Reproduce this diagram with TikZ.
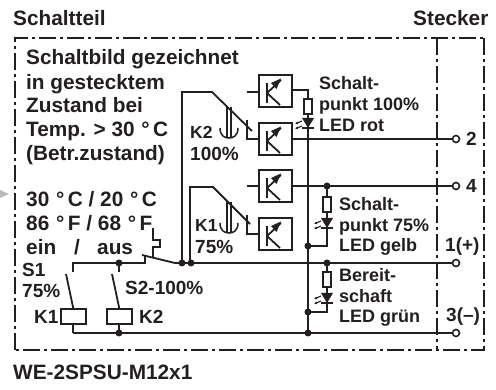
\documentclass[tikz,border=0pt]{standalone}
\usepackage{fontspec}
\setmainfont{Liberation Sans}
\usetikzlibrary{arrows.meta}
\tikzset{
 x=1pt,y=-1pt,
 wire/.style={line width=1.8pt,color=ink},
 thin wire/.style={line width=1.5pt,color=ink},
 frameline/.style={line width=1.9pt,color=ink,dash pattern=on 17pt off 4pt on 3pt off 4pt},
 txt/.style={inner sep=0pt,anchor=base west,font=\bfseries\fontsize{20.8}{24}\selectfont,text=ink},
 lab/.style={inner sep=0pt,anchor=base west,font=\bfseries\fontsize{18}{21}\selectfont,text=ink},
 clab/.style={inner sep=0pt,anchor=base west,font=\bfseries\fontsize{19}{22}\selectfont,text=ink},
 klab/.style={inner sep=0pt,anchor=base west,font=\bfseries\fontsize{17.5}{22}\selectfont,text=ink},
 dot/.style={circle,fill=ink,inner sep=0pt,minimum size=7pt},
 term/.style={circle,draw=ink,line width=1.6pt,fill=white,inner sep=0pt,minimum size=7pt},
 box/.style={draw=ink,line width=2pt,fill=white,inner sep=0pt,anchor=north west},
}
\definecolor{ink}{HTML}{231F20}
\newcommand{\amp}[2]{% box with comparator symbol, top-left corner #1,#2
 \begin{scope}[shift={(#1,#2)}]
 \draw[box] (0,0) rectangle (33,32);
 \draw[wire] (8,8)--(8,28);
 \draw[wire] (8,18)--(21,30);
 \draw[wire] (8,18)--(22,5);
 \fill[ink] (22,3.5)--(12,8)--(17.5,14)--cycle;
 \end{scope}}
\newcommand{\led}[2]{% led at centre x #1, triangle top y #2
 \begin{scope}[shift={(#1,#2)}]
 \fill[ink] (-6,0)--(6,0)--(0,10)--cycle;
 \draw[wire] (-6,10)--(6,10);
 \draw[line width=1.1pt,ink,-{Latex[length=3pt,width=3pt]}] (-6,3)--(-13,6);
 \draw[line width=1.1pt,ink,-{Latex[length=3pt,width=3pt]}] (-6,8)--(-13,11);
 \end{scope}}
\newcommand{\res}[3]{\draw[line width=1.6pt,ink,fill=white] (#1-4,#2) rectangle (#1+4,#3);}
\newcommand{\anch}[2]{% anchor, x centre #1, top y #2
 \begin{scope}[shift={(#1,#2)}]
 \draw[thin wire] (-2,0)--(-2,31) (2,0)--(2,31);
 \draw[thin wire] (-9,21) .. controls (-9,29) and (-4,31) .. (0,31) .. controls (4,31) and (9,29) .. (9,21);
 \end{scope}}
\begin{document}
\begin{tikzpicture}
\useasboundingbox (0,0) rectangle (496,390);
\fill[gray!55] (0,190)--(9,194)--(0,198)--cycle;
% frame
\draw[frameline] (15,350)--(15,38)--(484,38);
\draw[frameline] (484,38)--(484,350)--(15,350);
\draw[frameline] (437,38)--(437,350);
% headings
\node[txt] (t1) at (13,26) {Schaltteil};
\node[txt] (t2) at (413,26) {Stecker};
\node[txt] (t3) at (13,380) {WE-2SPSU-M12x1};
\node[txt] (a1) at (26,65) {Schaltbild gezeichnet};
\node[txt] (a2) at (26,90) {in gestecktem};
\node[txt] (a3) at (26,113) {Zustand bei};
\node[txt] (a4) at (26,137) {Temp. > 30 \kern1pt°\,C};
\node[txt] (a5) at (26,161) {(Betr.zustand)};
\node[txt] (a6) at (26,207) {30 \kern1pt°\,C / 20 \kern1pt°\,C};
\node[txt] (a7) at (26,231) {86 \kern1pt°\,F / 68 \kern1pt°\,F};
\node[txt] (a8) at (26,255) {ein};
\node[txt] (a9) at (74,255) {/};
\node[txt] (a10) at (97,255) {aus};
% wires
\draw[wire] (182,263)--(182,92)--(212,92)--(252,131);
\draw[wire] (190,263)--(190,187)--(213,187)--(250,224);
\draw[wire] (247,92)--(259,92);
\draw[wire] (247,120)--(247,139)--(259,139);
\draw[wire] (247,186)--(259,186);
\draw[wire] (247,215)--(247,234)--(259,234);
\draw[wire] (292,90)--(308,90)--(308,333);
\draw[wire] (292,139)--(452,139);
\draw[wire] (292,186)--(452,186);
\draw[wire] (175,263)--(452,263);
\draw[wire] (73,333)--(452,333);
\draw[wire] (327,186)--(327,246)--(308,246);
\draw[wire] (327,263)--(327,312)--(308,312);
% switch
\draw[wire] (73,272)--(73,263)--(145,263)--(145,256);
\draw[wire] (142,255)--(175,263);
\draw[wire] (153,228)--(153,240)--(160,240)--(160,247)--(153,247)--(153,258);
\draw[wire] (119,263)--(119,272);
\draw[wire] (66,274)--(73,307)--(73,309);
\draw[wire] (112,274)--(119,307)--(119,309);
\draw[wire] (73,324)--(73,333);
\draw[wire] (119,324)--(119,333);
\draw[box] (61,309) rectangle (86,324);
\draw[box] (107,309) rectangle (132,324);
\amp{259}{75}\amp{259}{123}\amp{259}{170}\amp{259}{218}
\anch{229}{107}\anch{229}{202}
\res{308}{99}{114}\res{327}{197}{212}\res{327}{272}{287}
\led{308}{118}\led{327}{218}\led{327}{293}
\node[dot] (d1) at (182,263) {};
\node[dot] (d2) at (191,263) {};
\node[dot] (d3) at (119,263) {};
\node[dot] (d4) at (119,333) {};
\node[dot] (d5) at (308,246) {};
\node[dot] (d6) at (308,312) {};
\node[dot] (d7) at (308,333) {};
\node[dot] (d8) at (327,186) {};
\node[dot] (d9) at (327,263) {};
\node[term] (p2) at (456,139) {};
\node[term] (p4) at (456,186) {};
\node[term] (p1) at (456,263) {};
\node[term] (p3) at (456,333) {};
% labels
\node[lab] at (319,90) {Schalt-};
\node[lab] at (319,111) {punkt 100\%};
\node[lab] at (319,132) {LED rot};
\node[lab] at (339,211) {Schalt-};
\node[lab] at (339,232) {punkt 75\%};
\node[lab] at (339,252) {LED gelb};
\node[lab] at (339,282) {Bereit-};
\node[lab] at (339,303) {schaft};
\node[lab] at (339,323) {LED grün};
\node[klab] at (190,139) {K2};
\node[clab] at (190,161) {100\%};
\node[klab] at (195,232) {K1};
\node[clab] at (195,254) {75\%};
\node[clab] at (22,277) {S1};
\node[clab] at (22,298) {75\%};
\node[clab] at (125,295) {S2-100\%};
\node[clab] at (34,324) {K1};
\node[clab] at (139,324) {K2};
\node[clab] at (466,146) {2};
\node[clab] at (466,193) {4};
\node[clab] at (445,252) {1(+)};
\node[clab] at (446,322) {3(–)};
\end{tikzpicture}
\end{document}
